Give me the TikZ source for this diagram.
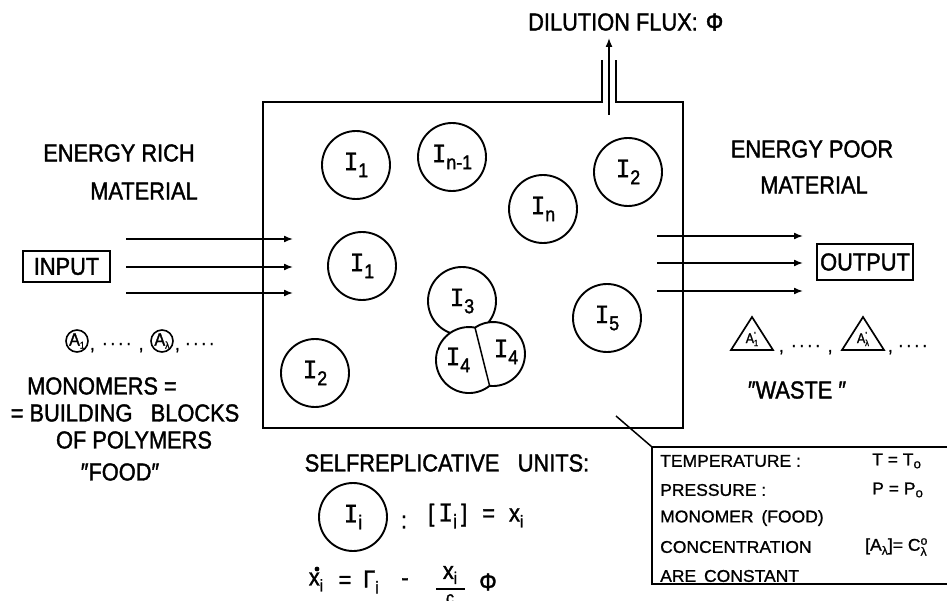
\documentclass[tikz,border=0pt]{standalone}
\usepackage{fontspec}
\setmainfont{Liberation Sans}[FakeStretch=0.89,FakeBold=1.5]
\newfontfamily\boxfont{Liberation Sans}[FakeStretch=1.03,FakeBold=1.0]
\newfontfamily\serifI{DejaVu Sans Mono}[FakeBold=0.8]
\usetikzlibrary{arrows.meta}
\newcommand\Isb[1]{{\serifI I}\raisebox{-7pt}{\fontsize{20}{20}\selectfont #1}}
\newcommand\dts{\raisebox{5pt}{.\hspace{3.5pt}.\hspace{3.5pt}.\hspace{3.5pt}.}}
\begin{document}
\begin{tikzpicture}[x=1pt,y=-1pt,
  lab/.style={inner sep=0pt, font=\fontsize{24.5}{27}\selectfont},
  boxtxt/.style={inner sep=0pt, anchor=west, font=\boxfont\fontsize{17}{20}\selectfont},
  unitc/.style={draw, circle, line width=1.9pt, minimum size=68pt, inner sep=0pt, font=\fontsize{24}{26}\selectfont},
  monoc/.style={draw, circle, line width=1.6pt, minimum size=22pt, inner sep=0pt, font=\fontsize{18}{18}\selectfont},
  flow/.style={line width=1.6pt, -{Latex[length=9pt,width=7pt]}},
  wall/.style={line width=2.6pt, line join=miter},
  ioBox/.style={draw, line width=1.8pt, inner sep=0pt, font=\fontsize{24.5}{27}\selectfont},
  dotrow/.style={inner sep=0pt, anchor=base west, font=\fontsize{18}{18}\selectfont},
  trisym/.style={inner sep=0pt, font=\fontsize{14}{14}\selectfont},
]
\fill[white] (0,0) rectangle (947,601);
\useasboundingbox (0,0) rectangle (947,601);

% reactor vessel with chimney
\draw[wall] (602,60) -- (602,102) -- (263,102) -- (263,428) -- (683,428) -- (683,102) -- (616,102) -- (616,60);
\coordinate (chb) at (609,115);
\coordinate (cht) at (609,38);
\draw[line width=1.4pt, -{Latex[length=9pt,width=7pt]}] (chb) -- (cht);
\node[lab, anchor=west] (dil) at (528,22) {DILUTION FLUX: \hspace{2pt}Φ};

% left labels
\node[lab] (erich) at (119,153) {ENERGY RICH};
\node[lab] (ermat) at (144,191) {MATERIAL};
\node[ioBox, minimum width=87pt, minimum height=31pt] (inp) at (66.5,266.5) {INPUT};
\foreach \y [count=\k] in {239,267,293}{
  \coordinate (ins\k) at (126,\y);
  \coordinate (ine\k) at (293,\y);
  \draw[flow] (ins\k) -- (ine\k);
}

% right labels
\node[lab] (epoor) at (812,149) {ENERGY POOR};
\node[lab] (epmat) at (814,185) {MATERIAL};
\node[ioBox, minimum width=96pt, minimum height=36pt] (outp) at (865,262) {OUTPUT};
\foreach \y [count=\k] in {236,263,291}{
  \coordinate (outs\k) at (657,\y);
  \coordinate (oute\k) at (803,\y);
  \draw[flow] (outs\k) -- (oute\k);
}

% units in the vessel
\node[unitc] (u1) at (356,165) {\Isb{1}};
\node[unitc] (u2) at (452,157) {\Isb{n-1}};
\node[unitc] (u3) at (543,209) {\Isb{n}};
\node[unitc] (u4) at (628,172) {\Isb{2}};
\node[unitc] (u5) at (362,266) {\Isb{1}};
\node[unitc] (u6) at (462,301) {\Isb{3}};
\node[unitc] (u7) at (607,318) {\Isb{5}};
\node[unitc] (u8) at (315,373) {\Isb{2}};
% dividing pair I4 I4
\draw[line width=1.9pt, fill=white] (475,327.6) arc[start angle=280.5, end angle=51.4, radius=33]
      arc[start angle=96.1, end angle=-124.3, radius=32] -- cycle;
\coordinate (divt) at (475,327.6);
\coordinate (divb) at (489.6,385.8);
\draw[line width=1.5pt] (divt) -- (divb);
\node[lab, font=\fontsize{24}{26}\selectfont] (i4a) at (458,360) {\Isb{4}};
\node[lab, font=\fontsize{24}{26}\selectfont] (i4b) at (506,352) {\Isb{4}};

% monomers
\node[monoc] (ma1) at (77,341) {A\raisebox{-3pt}{\fontsize{10}{10}\selectfont 1}};
\node[dotrow] (md1) at (90,350) {,\hspace{8pt}\dts\hspace{8pt},};
\node[monoc] (mal) at (162,341) {A\raisebox{-3pt}{\fontsize{10}{10}\selectfont λ}};
\node[dotrow] (md2) at (175,350) {,\hspace{6pt}\dts};
\node[lab] (mono1) at (102,386) {MONOMERS =};
\node[lab] (mono2) at (125,413) {= BUILDING\hspace{0.5em} BLOCKS};
\node[lab] (mono3) at (134,440) {OF POLYMERS};
\node[lab] (food) at (120,472) {″FOOD″};

% waste
\draw[line width=1.7pt, line join=miter] (752,317) -- (773,350) -- (731,350) -- cycle;
\node[trisym] (wa1) at (752,339) {A\raisebox{5pt}{\fontsize{9}{9}\selectfont '}\hspace{-2pt}\raisebox{-3pt}{\fontsize{9}{9}\selectfont 1}};
\node[dotrow] (wd1) at (779,352) {,\hspace{8pt}\dts\hspace{8pt},};
\draw[line width=1.7pt, line join=miter] (863,317) -- (884,350) -- (842,350) -- cycle;
\node[trisym] (wal) at (863,339) {A\raisebox{5pt}{\fontsize{9}{9}\selectfont '}\hspace{-2pt}\raisebox{-3pt}{\fontsize{9}{9}\selectfont λ}};
\node[dotrow] (wd2) at (888,352) {,\hspace{6pt}\dts};
\node[lab] (waste) at (797,390) {″WASTE ″};

% self-replicative units legend
\node[lab] (selfr) at (447,463) {SELFREPLICATIVE\hspace{0.5em} UNITS:};
\node[unitc] (ui) at (353,517) {\Isb{i}};
\node[lab] (colon) at (404,522) {:};
\node[lab, anchor=west] (conc) at (428,516) {[\,\Isb{i}\,]\hspace{9pt} = \hspace{8pt}x\raisebox{-6pt}{\fontsize{17}{17}\selectfont i}};
\coordinate (dotc) at (317,569);
\fill (dotc) circle (2.4);
\node[lab] (dx) at (316,582) {x\raisebox{-6pt}{\fontsize{17}{17}\selectfont i}};
\node[lab] (eq) at (345,582) {=};
\node[lab] (gam) at (371,582) {Γ\raisebox{-6pt}{\fontsize{17}{17}\selectfont i}};
\node[lab] (minus) at (405,582) {-};
\node[lab] (fnum) at (450,575) {x\raisebox{-5pt}{\fontsize{17}{17}\selectfont i}};
\coordinate (fl) at (436,589);
\coordinate (fr) at (465,589);
\draw[line width=1.5pt] (fl) -- (fr);
\node[lab, font=\fontsize{18}{18}\selectfont, anchor=north] (fden) at (450,594) {c};
\node[lab] (phi) at (488,582) {Φ};

% conditions box
\coordinate (lead) at (616,416);
\coordinate (cbox) at (652,447);
\draw[line width=1.5pt] (lead) -- (cbox);
\draw[line width=1.8pt, line join=miter] (952,447) -- (cbox) -- (652,584) -- (952,584);
\node[boxtxt] (c1) at (660,461) {TEMPERATURE :};
\node[boxtxt] (c2) at (660,490) {PRESSURE :};
\node[boxtxt] (c3) at (660,518) {MONOMER \hspace{3pt}(FOOD)};
\node[boxtxt] (c4) at (660,547) {CONCENTRATION};
\node[boxtxt] (c5) at (660,576) {ARE \hspace{3pt}CONSTANT};
\node[boxtxt] (r1) at (872,461) {T = T\raisebox{-3pt}{\fontsize{13}{13}\selectfont o}};
\node[boxtxt] (r2) at (872,490) {P = P\raisebox{-3pt}{\fontsize{13}{13}\selectfont o}};
\node[boxtxt] (r4) at (865,547) {[A\raisebox{-4pt}{\fontsize{12}{12}\selectfont λ}]= C\rlap{\raisebox{6pt}{\fontsize{12}{12}\selectfont o}}\raisebox{-5pt}{\fontsize{12}{12}\selectfont λ}};
\end{tikzpicture}
\end{document}
